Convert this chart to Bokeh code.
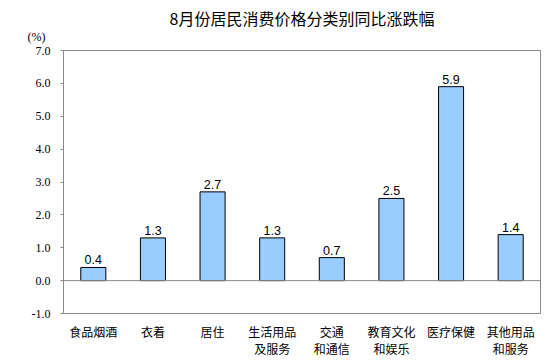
from bokeh.plotting import figure
from bokeh.models import Range1d, FixedTicker, Span, Title, ColumnDataSource, NumeralTickFormatter
from bokeh.core.properties import value
from bokeh.embed import file_html
from bokeh.resources import INLINE

title_text = "8月份居民消费价格分类别同比涨跌幅"
unit_text = "(%)"
categories = ["食品烟酒", "衣着", "居住", "生活用品\n及服务", "交通\n和通信", "教育文化\n和娱乐", "医疗保健", "其他用品\n和服务"]
values = [0.4, 1.3, 2.7, 1.3, 0.7, 2.5, 5.9, 1.4]
y_ticks = [-1, 0, 1, 2, 3, 4, 5, 6, 7]

xs = [i + 0.5 for i in range(len(categories))]
src = ColumnDataSource(dict(x=xs, top=values, label=[f"{v:.1f}" for v in values]))

main_title = Title(text=title_text, align="center", offset=-18, text_font="Noto Sans CJK SC",
                   text_font_size="16px", text_font_style="normal", text_color="black", standoff=-17)

p = figure(width=551, height=360, output_backend="svg", toolbar_location=None,
           x_range=Range1d(0, len(categories)), y_range=Range1d(-1, 7), title=main_title)
p.min_border_left = 63
p.min_border_right = 11
p.min_border_top = 50
p.min_border_bottom = 47
p.background_fill_color = "white"
p.border_fill_color = "white"
p.outline_line_color = "#888888"
p.outline_line_width = 1
p.xgrid.visible = False
p.ygrid.visible = False

p.vbar(x="x", top="top", bottom=0, width=0.42, source=src,
       fill_color="#99CCFF", line_color="black", line_width=1)
p.text(x="x", y="top", text="label", source=src, text_align="center", text_baseline="bottom",
       y_offset=-3, text_font=value("Liberation Sans"), text_font_size="12.5px", text_color="black")

p.add_layout(Span(location=0, dimension="width", line_color="#888888", line_width=1))

p.yaxis.ticker = FixedTicker(ticks=y_ticks)
p.yaxis.formatter = NumeralTickFormatter(format="0.0")
p.yaxis.major_label_text_font = "Liberation Serif"
p.yaxis.major_label_text_font_size = "12px"
p.yaxis.major_label_text_color = "black"
p.yaxis.axis_line_color = None
p.yaxis.major_tick_line_color = "#888888"
p.yaxis.major_tick_out = 3
p.yaxis.major_tick_in = 0
p.yaxis.minor_tick_line_color = None
p.yaxis.major_label_standoff = 10

p.xaxis.ticker = FixedTicker(ticks=xs)
p.xaxis.major_label_overrides = {x: c for x, c in zip(xs, categories)}
p.xaxis.major_label_text_font = "Noto Sans CJK SC"
p.xaxis.major_label_text_font_size = "12px"
p.xaxis.major_label_text_line_height = 1.0
p.xaxis.major_label_text_color = "black"
p.xaxis.axis_line_color = None
p.xaxis.major_tick_line_color = None
p.xaxis.major_tick_out = 0
p.xaxis.major_tick_in = 0
p.xaxis.minor_tick_line_color = None
p.xaxis.minor_tick_out = 0
p.xaxis.major_label_standoff = 9

unit = Title(text=unit_text, align="left", offset=-36, text_font="Liberation Serif",
             text_font_size="12px", text_font_style="normal", text_color="black", standoff=13)
p.add_layout(unit, "above")

open("out.html", "w").write(file_html(p, INLINE))
